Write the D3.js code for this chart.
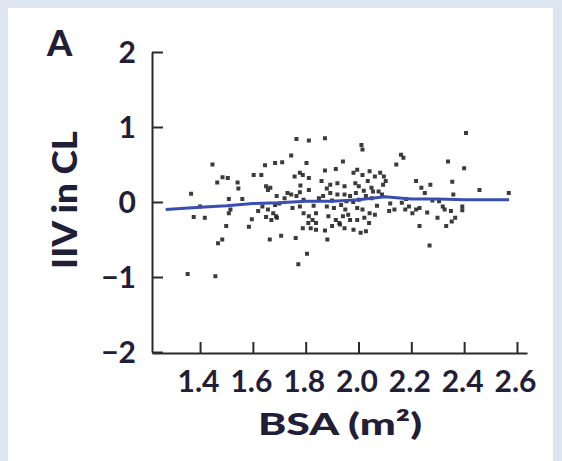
<!DOCTYPE html>
<html><head><meta charset="utf-8">
<script src="https://cdn.jsdelivr.net/npm/d3@7"></script>
<style>
html,body{margin:0;padding:0;background:#dce5f0;}
svg{display:block;}
</style></head>
<body>
<svg id="chart" width="562" height="461"></svg>
<script>
const bsa = [1.366,1.353,1.458,1.376,1.418,1.400,1.447,1.465,1.485,1.505,1.542,1.545,1.509,1.515,1.509,1.499,1.468,1.484,1.585,1.596,
1.603,1.632,1.646,1.684,1.711,1.745,1.650,1.657,1.666,1.636,1.657,1.677,1.691,1.684,1.650,1.670,1.688,1.664,1.707,1.762,
1.765,1.812,1.873,1.803,1.778,1.789,1.812,1.758,1.731,1.745,1.765,1.778,1.792,1.812,1.778,1.792,1.812,1.826,1.839,1.839,
1.789,1.819,1.839,1.873,1.805,1.772,1.882,1.873,1.914,1.941,1.893,1.920,1.947,1.866,1.893,1.920,1.947,1.968,1.880,1.907,
1.934,1.954,1.886,1.914,1.941,1.961,1.968,1.900,1.927,1.947,1.981,2.008,2.028,1.981,1.995,2.015,2.011,2.015,2.042,2.062,
2.082,2.096,2.103,2.093,1.988,2.001,2.035,2.049,2.001,2.028,2.055,2.076,2.089,1.995,2.015,2.042,2.062,1.995,2.022,2.116,
2.136,2.143,2.161,2.170,2.164,2.177,2.191,2.204,2.218,2.231,2.218,2.238,2.251,2.272,2.231,2.269,2.305,2.319,2.326,2.299,
2.332,2.353,2.366,2.339,2.355,2.359,2.393,2.393,2.400,2.407,2.458,2.569,
1.72,1.70,1.75,1.85,1.83,1.88,1.90,1.95,2.02,2.05,2.07,1.98,1.62,1.56,2.12,2.26,2.28,1.78,1.86,1.93,1.99,2.04,1.81,1.69,2.35,2.18];
const iiv = [0.11,-0.96,-0.99,-0.20,-0.21,-0.06,0.50,0.26,0.33,0.32,0.26,0.18,0.04,-0.10,-0.15,-0.32,-0.55,-0.50,-0.33,-0.23,
0.36,0.36,0.49,0.52,0.53,0.62,0.21,0.16,0.19,-0.06,-0.10,-0.15,-0.21,-0.04,-0.20,-0.24,-0.19,-0.50,-0.45,-0.48,
0.84,0.82,0.85,0.52,0.39,0.36,0.32,0.34,0.12,0.10,0.08,0.13,0.03,0.16,-0.06,-0.15,-0.19,-0.24,-0.15,-0.28,
-0.35,-0.35,-0.37,-0.38,-0.69,-0.83,-0.50,0.42,0.44,0.54,0.23,0.25,0.21,0.08,0.12,0.10,0.10,0.08,-0.06,-0.08,
-0.04,0.01,-0.19,-0.24,-0.19,-0.17,-0.24,-0.32,-0.28,-0.35,-0.37,-0.41,-0.39,0.39,0.43,0.36,0.76,0.70,0.41,0.34,
0.39,0.34,0.28,0.23,0.25,0.21,0.28,0.19,0.03,0.08,0.14,0.14,0.10,-0.08,-0.10,-0.15,-0.17,-0.24,-0.21,-0.12,
-0.10,0.50,0.63,0.59,-0.01,-0.10,-0.06,-0.15,-0.10,-0.08,0.28,0.19,0.12,0.23,-0.32,-0.58,0.01,-0.06,-0.10,-0.21,
-0.32,-0.26,-0.21,0.54,0.27,0.10,-0.06,-0.11,0.45,0.92,0.16,0.12,
0.05,-0.02,-0.08,0.05,-0.05,0.18,0.02,-0.10,0.15,0.05,-0.05,0.00,-0.12,0.04,-0.02,-0.14,0.02,0.22,0.28,-0.30,0.12,-0.28,-0.28,0.08,-0.12,0.04];
const fitX = [1.27,1.4,1.5,1.6,1.7,1.8,1.9,2.0,2.1,2.2,2.3,2.4,2.5,2.57];
const fitY = [-0.10,-0.07,-0.05,-0.02,-0.01,0.01,0.01,0.03,0.07,0.04,0.04,0.03,0.03,0.03];
const xTicks = [1.4,1.6,1.8,2.0,2.2,2.4,2.6];
const yTicks = [-2,-1,0,1,2];
const panelLabel = "A";
const xTitle = "BSA (m²)";
const yTitle = "IIV in CL";

const svg = d3.select("#chart");
svg.append("rect").attr("x",8).attr("y",8).attr("width",545).attr("height",461).attr("fill","#ffffff");

const x = d3.scaleLinear().domain([1.218,2.638]).range([152,527]);
const y = d3.scaleLinear().domain([-2,2]).range([352,52]);
const textCol = "#1f2038";

// points
svg.append("g").selectAll("rect").data(bsa.map((b,i)=>[b,iiv[i]])).join("rect")
  .attr("x",d=>x(d[0])-2).attr("y",d=>y(d[1])-2).attr("width",4).attr("height",4)
  .attr("fill","#262626").attr("opacity",0.9);

// fit line
svg.append("path").datum(fitX.map((v,i)=>[v,fitY[i]]))
  .attr("d",d3.line().x(d=>x(d[0])).y(d=>y(d[1])))
  .attr("fill","none").attr("stroke","#3a4db3").attr("stroke-width",3);

// axes
const xAxis = svg.append("g").attr("transform","translate(0,353)")
  .call(d3.axisBottom(x).tickValues(xTicks).tickFormat(d3.format(".1f")).tickSizeInner(-11).tickSizeOuter(0).tickPadding(17));
const yAxis = svg.append("g").attr("transform","translate(152,0)")
  .call(d3.axisLeft(y).tickValues(yTicks).tickFormat(d=>d<0?"−"+Math.abs(d):d).tickSizeInner(-11).tickSizeOuter(0).tickPadding(16));
[xAxis,yAxis].forEach(g=>{
  g.select(".domain").attr("stroke","#2a2a2a").attr("stroke-width",2);
  g.selectAll(".tick line").attr("stroke","#2a2a2a").attr("stroke-width",2);
  g.selectAll(".tick text").attr("fill",textCol).attr("font-family","Lato, sans-serif").attr("font-weight",700).attr("font-size",30);
});
xAxis.selectAll(".tick text").attr("dy","0.72em").attr("dx",-2);
yAxis.selectAll(".tick text").attr("dy","0.36em");

// labels
svg.append("text").attr("x",47).attr("y",56).text(panelLabel)
  .attr("font-family","Lato, sans-serif").attr("font-weight",900).attr("font-size",36).attr("fill",textCol);
svg.append("text").attr("x",340).attr("y",435).attr("text-anchor","middle").text(xTitle)
  .attr("font-family","Lato, sans-serif").attr("font-weight",900).attr("font-size",31).attr("fill",textCol)
  .attr("textLength",164).attr("lengthAdjust","spacingAndGlyphs");
svg.append("text").attr("transform","translate(77,200) rotate(-90)").attr("text-anchor","middle").text(yTitle)
  .attr("font-family","Lato, sans-serif").attr("font-weight",900).attr("font-size",34).attr("fill",textCol)
  .attr("textLength",138).attr("lengthAdjust","spacingAndGlyphs");
</script>
</body></html>
